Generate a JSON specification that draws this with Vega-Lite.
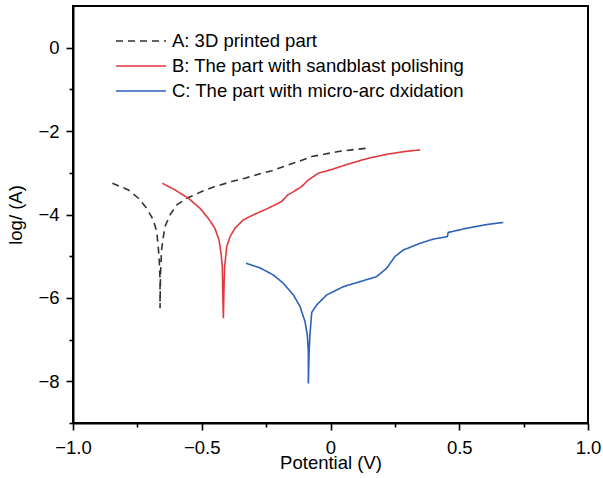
{
  "$schema": "https://vega.github.io/schema/vega-lite/v6.json",
  "autosize": "none",
  "width": 515,
  "height": 417,
  "padding": {"left": 73, "top": 6, "right": 15, "bottom": 55},
  "background": "white",
  "config": {
    "view": {"stroke": "black", "strokeWidth": 2},
    "font": "Liberation Sans",
    "axis": {
      "labelFont": "Liberation Sans",
      "titleFont": "Liberation Sans",
      "labelFontSize": 18.5,
      "titleFontSize": 18.5,
      "titleFontWeight": "normal",
      "labelColor": "black",
      "titleColor": "black",
      "domainColor": "black",
      "domainWidth": 2,
      "tickColor": "black",
      "tickWidth": 1.6,
      "grid": false
    }
  },
  "data": {
    "values": [
      {"s": "A: 3D printed part", "i": 1, "x": -0.847, "y": -3.25},
      {"s": "A: 3D printed part", "i": 2, "x": -0.785, "y": -3.41},
      {"s": "A: 3D printed part", "i": 3, "x": -0.746, "y": -3.61},
      {"s": "A: 3D printed part", "i": 4, "x": -0.714, "y": -3.85},
      {"s": "A: 3D printed part", "i": 5, "x": -0.688, "y": -4.13},
      {"s": "A: 3D printed part", "i": 6, "x": -0.675, "y": -4.41},
      {"s": "A: 3D printed part", "i": 7, "x": -0.669, "y": -4.77},
      {"s": "A: 3D printed part", "i": 8, "x": -0.665, "y": -5.09},
      {"s": "A: 3D printed part", "i": 9, "x": -0.662, "y": -5.57},
      {"s": "A: 3D printed part", "i": 10, "x": -0.662, "y": -6.25},
      {"s": "A: 3D printed part", "i": 11, "x": -0.660, "y": -5.40},
      {"s": "A: 3D printed part", "i": 12, "x": -0.656, "y": -4.85},
      {"s": "A: 3D printed part", "i": 13, "x": -0.649, "y": -4.53},
      {"s": "A: 3D printed part", "i": 14, "x": -0.643, "y": -4.29},
      {"s": "A: 3D printed part", "i": 15, "x": -0.623, "y": -4.01},
      {"s": "A: 3D printed part", "i": 16, "x": -0.597, "y": -3.77},
      {"s": "A: 3D printed part", "i": 17, "x": -0.558, "y": -3.61},
      {"s": "A: 3D printed part", "i": 18, "x": -0.500, "y": -3.45},
      {"s": "A: 3D printed part", "i": 19, "x": -0.449, "y": -3.33},
      {"s": "A: 3D printed part", "i": 20, "x": -0.384, "y": -3.21},
      {"s": "A: 3D printed part", "i": 21, "x": -0.332, "y": -3.13},
      {"s": "A: 3D printed part", "i": 22, "x": -0.267, "y": -3.01},
      {"s": "A: 3D printed part", "i": 23, "x": -0.228, "y": -2.95},
      {"s": "A: 3D printed part", "i": 24, "x": -0.177, "y": -2.84},
      {"s": "A: 3D printed part", "i": 25, "x": -0.125, "y": -2.73},
      {"s": "A: 3D printed part", "i": 26, "x": -0.073, "y": -2.61},
      {"s": "A: 3D printed part", "i": 27, "x": -0.021, "y": -2.55},
      {"s": "A: 3D printed part", "i": 28, "x": 0.030, "y": -2.49},
      {"s": "A: 3D printed part", "i": 29, "x": 0.082, "y": -2.45},
      {"s": "A: 3D printed part", "i": 30, "x": 0.141, "y": -2.41},

      {"s": "B: The part with sandblast polishing", "i": 1, "x": -0.653, "y": -3.25},
      {"s": "B: The part with sandblast polishing", "i": 2, "x": -0.604, "y": -3.41},
      {"s": "B: The part with sandblast polishing", "i": 3, "x": -0.552, "y": -3.61},
      {"s": "B: The part with sandblast polishing", "i": 4, "x": -0.507, "y": -3.85},
      {"s": "B: The part with sandblast polishing", "i": 5, "x": -0.475, "y": -4.09},
      {"s": "B: The part with sandblast polishing", "i": 6, "x": -0.449, "y": -4.33},
      {"s": "B: The part with sandblast polishing", "i": 7, "x": -0.433, "y": -4.61},
      {"s": "B: The part with sandblast polishing", "i": 8, "x": -0.425, "y": -4.93},
      {"s": "B: The part with sandblast polishing", "i": 9, "x": -0.420, "y": -5.25},
      {"s": "B: The part with sandblast polishing", "i": 10, "x": -0.419, "y": -5.73},
      {"s": "B: The part with sandblast polishing", "i": 11, "x": -0.416, "y": -6.49},
      {"s": "B: The part with sandblast polishing", "i": 12, "x": -0.413, "y": -5.60},
      {"s": "B: The part with sandblast polishing", "i": 13, "x": -0.411, "y": -5.25},
      {"s": "B: The part with sandblast polishing", "i": 14, "x": -0.403, "y": -4.77},
      {"s": "B: The part with sandblast polishing", "i": 15, "x": -0.390, "y": -4.53},
      {"s": "B: The part with sandblast polishing", "i": 16, "x": -0.371, "y": -4.33},
      {"s": "B: The part with sandblast polishing", "i": 17, "x": -0.339, "y": -4.13},
      {"s": "B: The part with sandblast polishing", "i": 18, "x": -0.293, "y": -3.99},
      {"s": "B: The part with sandblast polishing", "i": 19, "x": -0.242, "y": -3.85},
      {"s": "B: The part with sandblast polishing", "i": 20, "x": -0.190, "y": -3.69},
      {"s": "B: The part with sandblast polishing", "i": 21, "x": -0.166, "y": -3.53},
      {"s": "B: The part with sandblast polishing", "i": 22, "x": -0.151, "y": -3.48},
      {"s": "B: The part with sandblast polishing", "i": 23, "x": -0.112, "y": -3.33},
      {"s": "B: The part with sandblast polishing", "i": 24, "x": -0.086, "y": -3.17},
      {"s": "B: The part with sandblast polishing", "i": 25, "x": -0.047, "y": -3.01},
      {"s": "B: The part with sandblast polishing", "i": 26, "x": 0.005, "y": -2.92},
      {"s": "B: The part with sandblast polishing", "i": 27, "x": 0.069, "y": -2.79},
      {"s": "B: The part with sandblast polishing", "i": 28, "x": 0.147, "y": -2.65},
      {"s": "B: The part with sandblast polishing", "i": 29, "x": 0.224, "y": -2.55},
      {"s": "B: The part with sandblast polishing", "i": 30, "x": 0.289, "y": -2.49},
      {"s": "B: The part with sandblast polishing", "i": 31, "x": 0.348, "y": -2.45},

      {"s": "C: The part with micro-arc dxidation", "i": 1, "x": -0.328, "y": -5.17},
      {"s": "C: The part with micro-arc dxidation", "i": 2, "x": -0.274, "y": -5.28},
      {"s": "C: The part with micro-arc dxidation", "i": 3, "x": -0.222, "y": -5.45},
      {"s": "C: The part with micro-arc dxidation", "i": 4, "x": -0.183, "y": -5.65},
      {"s": "C: The part with micro-arc dxidation", "i": 5, "x": -0.144, "y": -5.93},
      {"s": "C: The part with micro-arc dxidation", "i": 6, "x": -0.118, "y": -6.21},
      {"s": "C: The part with micro-arc dxidation", "i": 7, "x": -0.099, "y": -6.57},
      {"s": "C: The part with micro-arc dxidation", "i": 8, "x": -0.090, "y": -6.89},
      {"s": "C: The part with micro-arc dxidation", "i": 9, "x": -0.086, "y": -7.29},
      {"s": "C: The part with micro-arc dxidation", "i": 10, "x": -0.086, "y": -8.05},
      {"s": "C: The part with micro-arc dxidation", "i": 11, "x": -0.083, "y": -7.30},
      {"s": "C: The part with micro-arc dxidation", "i": 12, "x": -0.080, "y": -6.89},
      {"s": "C: The part with micro-arc dxidation", "i": 13, "x": -0.073, "y": -6.35},
      {"s": "C: The part with micro-arc dxidation", "i": 14, "x": -0.054, "y": -6.17},
      {"s": "C: The part with micro-arc dxidation", "i": 15, "x": -0.015, "y": -5.93},
      {"s": "C: The part with micro-arc dxidation", "i": 16, "x": 0.050, "y": -5.73},
      {"s": "C: The part with micro-arc dxidation", "i": 17, "x": 0.115, "y": -5.61},
      {"s": "C: The part with micro-arc dxidation", "i": 18, "x": 0.179, "y": -5.49},
      {"s": "C: The part with micro-arc dxidation", "i": 19, "x": 0.218, "y": -5.29},
      {"s": "C: The part with micro-arc dxidation", "i": 20, "x": 0.250, "y": -5.01},
      {"s": "C: The part with micro-arc dxidation", "i": 21, "x": 0.283, "y": -4.85},
      {"s": "C: The part with micro-arc dxidation", "i": 22, "x": 0.348, "y": -4.69},
      {"s": "C: The part with micro-arc dxidation", "i": 23, "x": 0.399, "y": -4.59},
      {"s": "C: The part with micro-arc dxidation", "i": 24, "x": 0.454, "y": -4.53},
      {"s": "C: The part with micro-arc dxidation", "i": 25, "x": 0.457, "y": -4.43},
      {"s": "C: The part with micro-arc dxidation", "i": 26, "x": 0.529, "y": -4.33},
      {"s": "C: The part with micro-arc dxidation", "i": 27, "x": 0.607, "y": -4.24},
      {"s": "C: The part with micro-arc dxidation", "i": 28, "x": 0.671, "y": -4.19}
    ]
  },
  "mark": {"type": "line", "strokeWidth": 1.6, "clip": true},
  "encoding": {
    "x": {
      "field": "x",
      "type": "quantitative",
      "scale": {"domain": [-1, 1], "nice": false, "zero": false},
      "axis": {
        "title": "Potential (V)",
        "values": [-1, -0.75, -0.5, -0.25, 0, 0.25, 0.5, 0.75, 1],
        "labelExpr": "abs(datum.value*2-round(datum.value*2))>0.01 ? '' : (datum.value==0 ? '0' : format(datum.value,'.1f'))",
        "tickSize": {"condition": {"test": "abs(datum.value*2-round(datum.value*2))<0.01", "value": 7}, "value": 4},
        "labelPadding": 8,
        "labelFlush": false,
        "labelOverlap": false,
        "titlePadding": -3
      }
    },
    "y": {
      "field": "y",
      "type": "quantitative",
      "scale": {"domain": [-9, 1], "nice": false, "zero": false},
      "axis": {
        "title": "log/ (A)",
        "values": [-9, -8, -7, -6, -5, -4, -3, -2, -1, 0],
        "labelExpr": "abs(datum.value % 2) > 0.5 ? '' : format(datum.value,'d')",
        "tickSize": {"condition": {"test": "abs(datum.value % 2) < 0.5", "value": 7}, "value": 4},
        "labelPadding": 7,
        "labelOverlap": false,
        "titlePadding": 12
      }
    },
    "color": {
      "field": "s",
      "type": "nominal",
      "scale": {
        "domain": ["A: 3D printed part", "B: The part with sandblast polishing", "C: The part with micro-arc dxidation"],
        "range": ["#333333", "#e0393e", "#2a62b8"]
      },
      "legend": {
        "title": null,
        "orient": "none",
        "legendX": 57,
        "legendY": 24,
        "padding": 0,
        "labelFont": "Liberation Sans",
        "labelFontSize": 18.5,
        "labelColor": "black",
        "symbolType": "M-2.5,0H2.5",
        "symbolSize": 400,
        "symbolStrokeWidth": 1.5,
        "rowPadding": 4,
        "labelOffset": 20,
        "labelLimit": 0
      }
    },
    "strokeDash": {
      "field": "s",
      "type": "nominal",
      "scale": {
        "domain": ["A: 3D printed part", "B: The part with sandblast polishing", "C: The part with micro-arc dxidation"],
        "range": [[7, 5], [1, 0], [1, 0]]
      },
      "legend": {
        "title": null,
        "orient": "none",
        "legendX": 57,
        "legendY": 24,
        "padding": 0,
        "labelFont": "Liberation Sans",
        "labelFontSize": 18.5,
        "labelColor": "black",
        "symbolType": "M-2.5,0H2.5",
        "symbolSize": 400,
        "symbolStrokeWidth": 1.5,
        "rowPadding": 4,
        "labelOffset": 20,
        "labelLimit": 0
      }
    },
    "order": {"field": "i", "type": "quantitative"}
  }
}
